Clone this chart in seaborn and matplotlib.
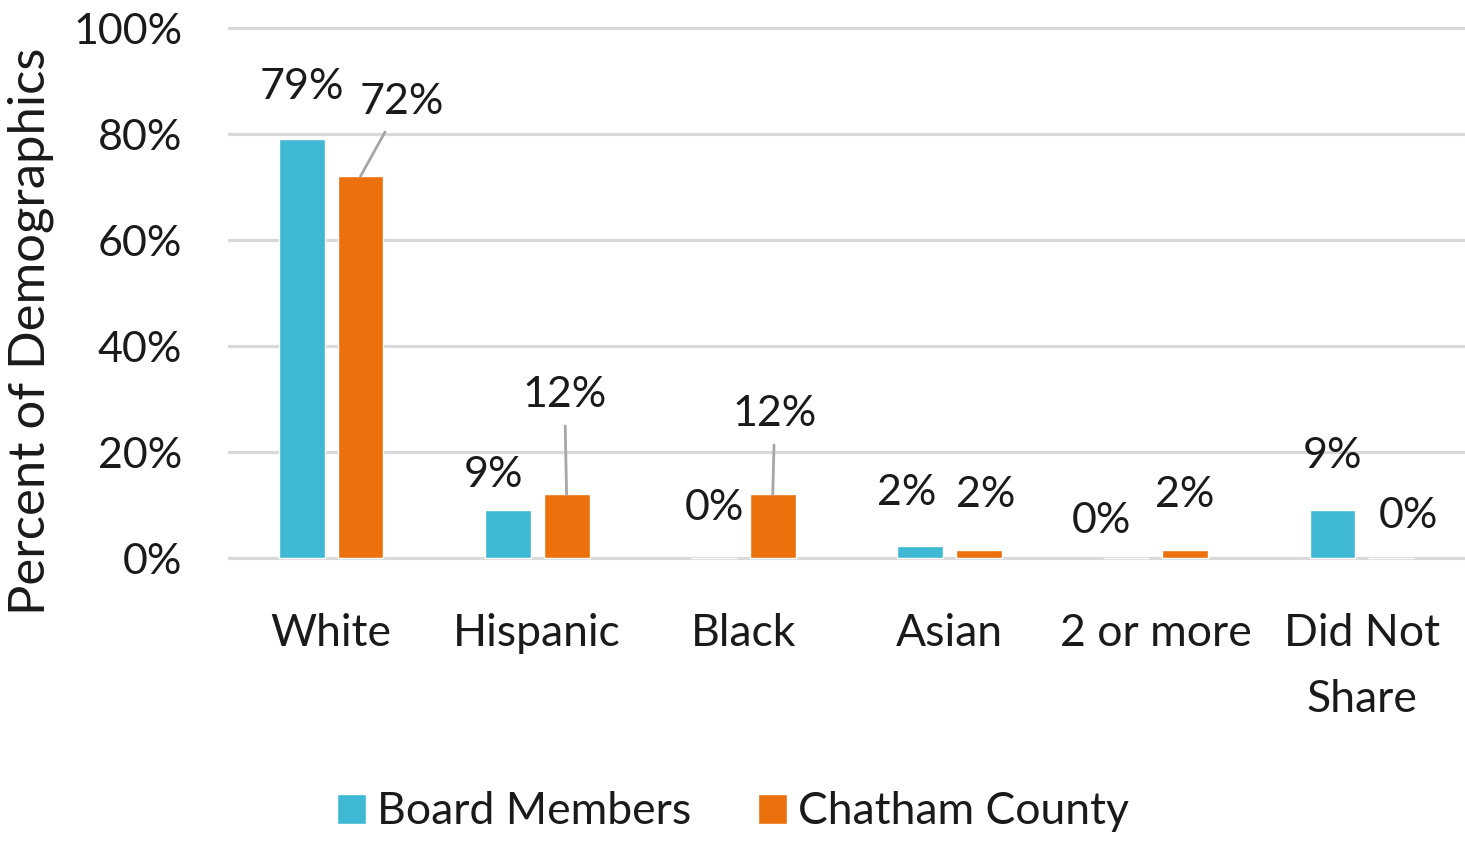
import matplotlib
matplotlib.use("Agg")
import matplotlib.pyplot as plt
import seaborn as sns
import pandas as pd

categories = ["White", "Hispanic", "Black", "Asian", "2 or more", "Did Not\nShare"]
board_members = [79, 9, 0, 2.2, 0, 9]
chatham_county = [72, 12, 12, 1.6, 1.6, 0]
series_names = ["Board Members", "Chatham County"]
y_ticks = [0, 20, 40, 60, 80, 100]
y_tick_labels = [f"{v}%" for v in y_ticks]

sns.set_theme(style="white")
plt.rcParams["font.family"] = ["Lato", "DejaVu Sans"]

df = pd.DataFrame({
    "Category": categories * 2,
    "Value": board_members + chatham_county,
    "Series": [series_names[0]] * len(categories) + [series_names[1]] * len(categories),
})

colors = {"Board Members": "#3fb8d3", "Chatham County": "#ec700c"}

fig = plt.figure(figsize=(14.65, 8.41), dpi=100)
ax = fig.add_axes([0.1556, 0.3302, 0.8444, 0.6428])

sns.barplot(data=df, x="Category", y="Value", hue="Series", order=categories,
            hue_order=series_names, palette=colors, width=0.57, gap=0.22,
            saturation=1, ax=ax, legend=True)

ax.set_xlim(-0.5, len(categories) - 0.5)
ax.set_ylim(-1, 101)
ax.set_yticks(y_ticks)
ax.set_yticklabels(y_tick_labels)
ax.yaxis.grid(True, color="#d9d9d9", linewidth=2.3)
ax.set_axisbelow(True)
for s in ax.spines.values():
    s.set_visible(False)
ax.tick_params(axis="y", length=0, pad=33, labelsize=31, labelcolor="#1a1a1a")
ax.tick_params(axis="x", length=0, pad=36, labelsize=32, labelcolor="#1a1a1a")
for t in ax.get_xticklabels():
    t.set_linespacing(1.75)
ax.set_xlabel("")
ax.set_ylabel("Percent of Demographics", fontsize=36.5, color="#1a1a1a")
ax.yaxis.set_label_coords(-0.141, 0.43)

# data labels (offsets in pixels relative to bar top)
label_offsets = [
    [(0, 52), (-14, 35), (0, 50), (-13, 53), (-25, 37), (0, 54)],
    [(41, 74), (-2, 99), (2, 80), (7, 55), (0, 55), (17, 42)],
]
leaders = [
    [False] * 6,
    [True, True, True, False, False, False],
]
values = [board_members, chatham_county]
bars = [p for p in ax.patches if p.get_width() > 0][:2 * len(categories)]
for si in range(2):
    for ci in range(len(categories)):
        p = bars[si * len(categories) + ci]
        xc = p.get_x() + p.get_width() / 2
        top = p.get_height()
        dx, dy = label_offsets[si][ci]
        kw = {}
        if leaders[si][ci]:
            kw["arrowprops"] = dict(arrowstyle="-", color="#a6a6a6", lw=2,
                                    shrinkA=6, shrinkB=0)
        ax.annotate(f"{round(values[si][ci])}%", xy=(xc, top), xytext=(dx, dy),
                    textcoords="offset pixels", ha="center", va="center",
                    fontsize=31, color="#1a1a1a", annotation_clip=False, **kw)

handles, labels = ax.get_legend_handles_labels()
ax.get_legend().remove()
fig.legend(handles, labels, loc="center", bbox_to_anchor=(733 / 1465, 1 - 812 / 841),
           ncol=2, frameon=False, fontsize=32, handlelength=0.65, handleheight=0.65,
           handletextpad=0.25, columnspacing=1.5, labelcolor="#1a1a1a")

fig.savefig("out.png", dpi=100)
